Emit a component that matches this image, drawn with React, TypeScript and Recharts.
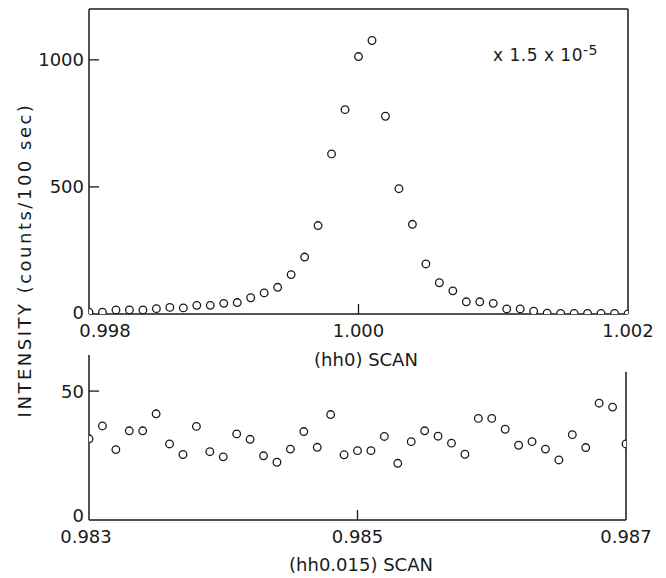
import { ScatterChart, Scatter, XAxis, YAxis, ReferenceLine } from "recharts";

// (hh0) scan
const peakH = [
  0.998, 0.9981, 0.9982, 0.9983, 0.9984, 0.9985, 0.9986, 0.9987, 0.9988, 0.9989,
  0.999, 0.9991, 0.9992, 0.9993, 0.9994, 0.9995, 0.9996, 0.9997, 0.9998, 0.9999,
  1.0, 1.0001, 1.0002, 1.0003, 1.0004, 1.0005, 1.0006, 1.0007, 1.0008, 1.0009,
  1.001, 1.0011, 1.0012, 1.0013, 1.0014, 1.0015, 1.0016, 1.0017, 1.0018, 1.0019,
  1.002,
];
const peakCounts = [
  7, 7, 16, 16, 16, 21, 26, 24, 34, 34,
  42, 45, 64, 83, 105, 155, 224, 348, 630, 804,
  1013, 1076, 778, 493, 353, 197, 123, 91, 48, 48,
  42, 20, 20, 11, 3, 2, 2, 2, 2, 2,
  0,
];

// (hh0.015) scan
const diffuseH = [
  0.983, 0.9831, 0.9832, 0.9833, 0.9834, 0.9835, 0.9836, 0.9837, 0.9838, 0.9839,
  0.984, 0.9841, 0.9842, 0.9843, 0.9844, 0.9845, 0.9846, 0.9847, 0.9848, 0.9849,
  0.985, 0.9851, 0.9852, 0.9853, 0.9854, 0.9855, 0.9856, 0.9857, 0.9858, 0.9859,
  0.986, 0.9861, 0.9862, 0.9863, 0.9864, 0.9865, 0.9866, 0.9867, 0.9868, 0.9869,
  0.987,
];
const diffuseCounts = [
  31.5, 36.5, 27.3, 34.6, 34.6, 41.2, 29.5, 25.4, 36.3, 26.5,
  24.5, 33.4, 31.3, 24.9, 22.4, 27.5, 34.3, 28.2, 40.9, 25.3,
  26.9, 26.9, 32.4, 22.0, 30.4, 34.6, 32.5, 29.8, 25.5, 39.4,
  39.4, 35.2, 29.0, 30.4, 27.5, 23.3, 33.1, 28.1, 45.3, 43.8,
  29.5,
];

const peakTicksX = [0.998, 1.0, 1.002];
const peakTicksY = [0, 500, 1000];
const diffuseTicksX = [0.983, 0.985, 0.987];
const diffuseTicksY = [0, 50];

const peakData = peakH.map((x, i) => ({ x, y: peakCounts[i] }));
const diffuseData = diffuseH.map((x, i) => ({ x, y: diffuseCounts[i] }));

const FONT = "DejaVu Sans";
const INK = "#1a1a1a";

const Ring = (props: any) => (
  <circle cx={props.cx} cy={props.cy} r={3.8} fill="#fff" stroke={INK} strokeWidth={1.3} />
);

const LeftTick = ({ x, y, payload, zeroLift }: any) => (
  <g>
    {payload.value !== 0 && <line x1={x} x2={x + 10} y1={y} y2={y} stroke={INK} strokeWidth={1.3} />}
    <text
      x={x - 5}
      y={payload.value === 0 ? y - zeroLift : y}
      textAnchor="end"
      dominantBaseline="central"
      fontFamily={FONT}
      fontSize={18}
      fill={INK}
    >
      {payload.value}
    </text>
  </g>
);

const RightTick = ({ x, y }: any) => (
  <line x1={x} x2={x - 10} y1={y} y2={y} stroke={INK} strokeWidth={1.3} />
);

const BottomTick = ({ x, y, payload, index, firstShift }: any) => (
  <g>
    {index === 1 && <line x1={x} x2={x} y1={y} y2={y - 10} stroke={INK} strokeWidth={1.3} />}
    <text
      x={index === 0 ? x + firstShift : x}
      y={y + 23}
      textAnchor="middle"
      fontFamily={FONT}
      fontSize={18}
      fill={INK}
    >
      {payload.value.toFixed(3)}
    </text>
  </g>
);

const axisLine = { stroke: INK, strokeWidth: 1.5 };

export default function App() {
  return (
    <div
      style={{
        position: "absolute",
        left: 0,
        top: 0,
        width: 666,
        height: 578,
        background: "#fff",
        fontFamily: FONT,
        color: INK,
      }}
    >
      <div style={{ position: "absolute", left: 0, top: 0 }}>
        <ScatterChart width={666} height={345} margin={{ top: 9, right: 28, bottom: 0, left: 29 }}>
          <XAxis
            type="number"
            dataKey="x"
            domain={[0.998, 1.002]}
            ticks={peakTicksX}
            interval={0}
            allowDataOverflow
            height={31}
            tickSize={0}
            tickMargin={0}
            tickLine={false}
            axisLine={axisLine}
            tick={(p: any) => <BottomTick {...p} firstShift={16} />}
          />
          <YAxis
            yAxisId="l"
            type="number"
            dataKey="y"
            domain={[0, 1200]}
            ticks={peakTicksY}
            interval={0}
            allowDataOverflow
            width={60}
            tickSize={0}
            tickMargin={0}
            tickLine={false}
            axisLine={axisLine}
            tick={(p: any) => <LeftTick {...p} zeroLift={2} />}
          />
          <YAxis
            yAxisId="r"
            orientation="right"
            type="number"
            domain={[0, 1200]}
            ticks={[500, 1000]}
            interval={0}
            width={10}
            tickSize={0}
            tickMargin={0}
            tickLine={false}
            axisLine={axisLine}
            tick={(p: any) => <RightTick {...p} />}
          />
          <ReferenceLine yAxisId="l" y={1200} stroke={INK} strokeWidth={1.5} />
          <Scatter yAxisId="l" data={peakData} shape={Ring} isAnimationActive={false} />
        </ScatterChart>
      </div>

      <div style={{ position: "absolute", left: 0, top: 330 }}>
        <ScatterChart width={666} height={248} margin={{ top: 25, right: 30, bottom: 28, left: 29 }}>
          <XAxis
            type="number"
            dataKey="x"
            domain={[0.983, 0.987]}
            ticks={diffuseTicksX}
            interval={0}
            allowDataOverflow
            height={30}
            tickSize={0}
            tickMargin={0}
            tickLine={false}
            axisLine={axisLine}
            tick={(p: any) => <BottomTick {...p} firstShift={-3} />}
          />
          <YAxis
            yAxisId="l"
            type="number"
            dataKey="y"
            domain={[0, 64]}
            ticks={diffuseTicksY}
            interval={0}
            allowDataOverflow
            width={60}
            tickSize={0}
            tickMargin={0}
            tickLine={false}
            axisLine={axisLine}
            tick={(p: any) => <LeftTick {...p} zeroLift={5} />}
          />
          <YAxis
            yAxisId="r"
            orientation="right"
            type="number"
            domain={[0, 64]}
            ticks={[50]}
            interval={0}
            width={10}
            tickSize={0}
            tickMargin={0}
            tickLine={false}
            axisLine={false}
            tick={(p: any) => <RightTick {...p} />}
          />
          <ReferenceLine
            yAxisId="l"
            segment={[
              { x: 0.987, y: 0 },
              { x: 0.987, y: 57.5 },
            ]}
            stroke={INK}
            strokeWidth={1.5}
          />
          <Scatter yAxisId="l" data={diffuseData} shape={Ring} isAnimationActive={false} />
        </ScatterChart>
      </div>

      <div
        style={{
          position: "absolute",
          left: 366,
          top: 351,
          transform: "translateX(-50%)",
          fontSize: 18,
          lineHeight: 1,
          whiteSpace: "nowrap",
        }}
      >
        (hh0) SCAN
      </div>
      <div
        style={{
          position: "absolute",
          left: 361,
          top: 556,
          transform: "translateX(-50%)",
          fontSize: 18,
          lineHeight: 1,
          whiteSpace: "nowrap",
        }}
      >
        (hh0.015) SCAN
      </div>
      <div
        style={{
          position: "absolute",
          left: 25,
          top: 260,
          transform: "translate(-50%, -50%) rotate(-90deg)",
          fontSize: 18,
          letterSpacing: 2.5,
          lineHeight: 1,
          whiteSpace: "nowrap",
        }}
      >
        INTENSITY (counts/100 sec)
      </div>
      <div
        style={{
          position: "absolute",
          left: 493,
          top: 43,
          fontSize: 17,
          letterSpacing: 0.5,
          lineHeight: 1,
          whiteSpace: "nowrap",
        }}
      >
        x 1.5 x 10<sup style={{ fontSize: 14, verticalAlign: "6px" }}>-5</sup>
      </div>
    </div>
  );
}
